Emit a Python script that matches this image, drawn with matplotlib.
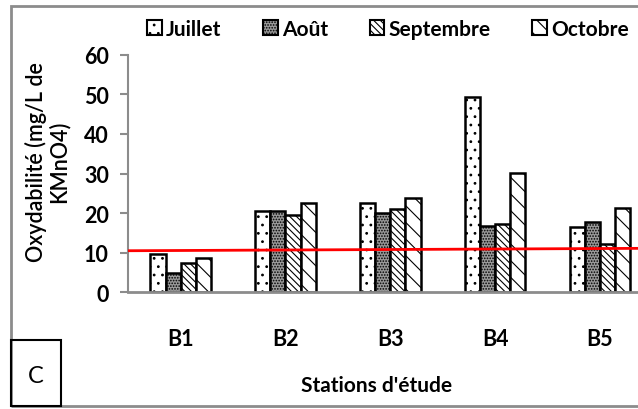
import numpy as np
import matplotlib
matplotlib.use("Agg")
import matplotlib.pyplot as plt
from matplotlib.patches import Rectangle, Patch

# données
stations = ["B1", "B2", "B3", "B4", "B5"]
mois = ["Juillet", "Août", "Septembre", "Octobre"]
juillet = [9.7, 20.5, 22.5, 49.2, 16.4]
aout = [4.8, 20.5, 20.0, 16.8, 17.8]
septembre = [7.5, 19.6, 21.0, 17.2, 12.1]
octobre = [8.6, 22.5, 23.8, 30.1, 21.2]
seuil = [10.5, 11.1]  # ligne rouge (début, fin)

series = [juillet, aout, septembre, octobre]
hachures = ["..", "......", "\\\\\\\\\\", "\\\\"]
couleurs = ["white", "#9a9a9a", "white", "white"]

plt.rcParams['font.family'] = ['Lato', 'DejaVu Sans']
plt.rcParams['hatch.linewidth'] = 0.8

fig = plt.figure(figsize=(6.38, 4.10), dpi=100)
ax = fig.add_axes([0.2011, 0.2846, 0.7989, 0.5795])

x = np.arange(len(stations))
w = 0.1445
for i, (vals, h, c) in enumerate(zip(series, hachures, couleurs)):
    ax.bar(x + (i - 1.5) * w, vals, w, color=c, edgecolor="black",
           linewidth=1.8, hatch=h, label=mois[i], zorder=2)

xlim = (-0.5, 4.364)
ax.plot(xlim, seuil, color="red", lw=2, zorder=3)

ax.set_xlim(xlim)
ax.set_ylim(0, 60)
ax.set_yticks(range(0, 61, 10))
ax.set_xticks(x)
ax.set_xticklabels(stations)
for s in ["top", "right"]:
    ax.spines[s].set_visible(False)
ax.spines["left"].set_color("#8c8c8c")
ax.spines["bottom"].set_color("#8c8c8c")
ax.spines["left"].set_linewidth(1.5)
ax.spines["bottom"].set_linewidth(2)
ax.tick_params(axis="y", length=6, width=1.5, color="#8c8c8c", labelsize=15.5, pad=8)
ax.tick_params(axis="x", length=0, labelsize=15.5, pad=26)
for t in ax.get_xticklabels() + ax.get_yticklabels():
    t.set_fontweight("bold")

fig.text(0.074, 0.605, "Oxydabilité (mg/L de\nKMnO4)", rotation=90,
         ha="center", va="center", fontsize=15.5, fontweight="semibold",
         linespacing=1.05)
fig.text(377 / 638, 1 - 386 / 410, "Stations d'étude", ha="center", va="center",
         fontsize=15, fontweight="bold")

handles = [Patch(facecolor=c, edgecolor="black", hatch=h, linewidth=1.5)
           for h, c in zip(hachures, couleurs)]
fig.legend(handles, mois, loc="center", bbox_to_anchor=(388 / 638, 1 - 30 / 410),
           ncol=4, frameon=False, handlelength=0.7, handleheight=0.7,
           handletextpad=0.2, columnspacing=2.0,
           prop={"weight": "bold", "size": 15})

# cadre extérieur
fig.patches.append(Rectangle((11 / 638, 3 / 410), 1.2, 400 / 410, transform=fig.transFigure,
                             fill=False, edgecolor="#8c8c8c", lw=2))
fig.patches.append(Rectangle((11 / 638, 3 / 410), 50 / 638, 66 / 410, transform=fig.transFigure,
                             fill=False, edgecolor="black", lw=1.5))
fig.text(36 / 638, 1 - 377 / 410, "C", ha="center", va="center", fontsize=17)

fig.savefig("out.png", dpi=100)
